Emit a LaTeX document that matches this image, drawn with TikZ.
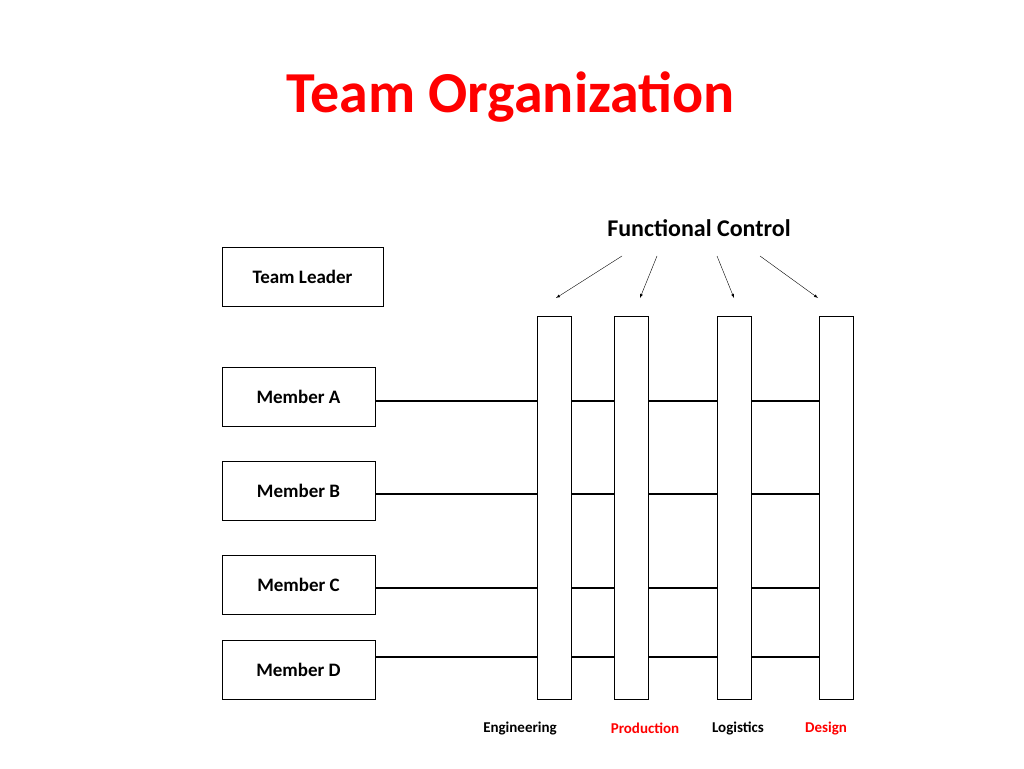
\documentclass[tikz,border=0pt]{standalone}
\usepackage{fontspec}
\setmainfont{Carlito}
\usetikzlibrary{positioning,arrows}
\tikzstyle{member}=[draw, thin, minimum width=153pt, minimum height=59pt, inner sep=0, font=\bfseries\fontsize{19}{19}\selectfont]
\tikzstyle{col}=[draw, thin, fill=white, minimum width=34pt, minimum height=383pt, inner sep=0]
\tikzstyle{dept}=[font=\bfseries\fontsize{15}{15}\selectfont]
\tikzstyle{bar}=[line width=2.6pt]
\begin{document}
\begin{tikzpicture}[x=1pt,y=-1pt]
        \useasboundingbox (0,0) rectangle (1024,768);
        \node[font=\bfseries\fontsize{58}{58}\selectfont, text=red] (title) at (511,97) {Team Organization};
        \node[font=\bfseries\fontsize{24}{24}\selectfont] (fc) at (699,228) {Functional Control};
        \node[member, minimum width=161pt] (lead) at (302.5,276.5) {Team Leader};
        \node[member] (ma) at (298.5,396.5) {Member A};
        \node[member] (mb) at (298.5,490.5) {Member B};
        \node[member] (mc) at (298.5,584.5) {Member C};
        \node[member] (md) at (298.5,669.5) {Member D};
        % horizontal lines behind the columns
        \draw[bar] (375,401) -- (819,401);
        \draw[bar] (375,494) -- (819,494);
        \draw[bar] (375,588) -- (819,588);
        \draw[bar] (375,657) -- (819,657);
        \node[col] (eng) at (554,507.5) {};
        \node[col] (prod) at (631,507.5) {};
        \node[col] (log) at (734,507.5) {};
        \node[col] (des) at (836,507.5) {};
        \coordinate (a1) at (622,256);
        \coordinate (a2) at (657,256);
        \coordinate (a3) at (717,256);
        \coordinate (a4) at (760,256);
        \draw[-latex] (a1) -- (556,298);
        \draw[-latex] (a2) -- (640,298);
        \draw[-latex] (a3) -- (734,298);
        \draw[-latex] (a4) -- (818,298);
        \node[dept] (engl) at (520,728) {Engineering};
        \node[dept, text=red] (prodl) at (645,728) {Production};
        \node[dept] (logl) at (738,728) {Logistics};
        \node[dept, text=red] (desl) at (826,728) {Design};
    \end{tikzpicture}
\end{document}
